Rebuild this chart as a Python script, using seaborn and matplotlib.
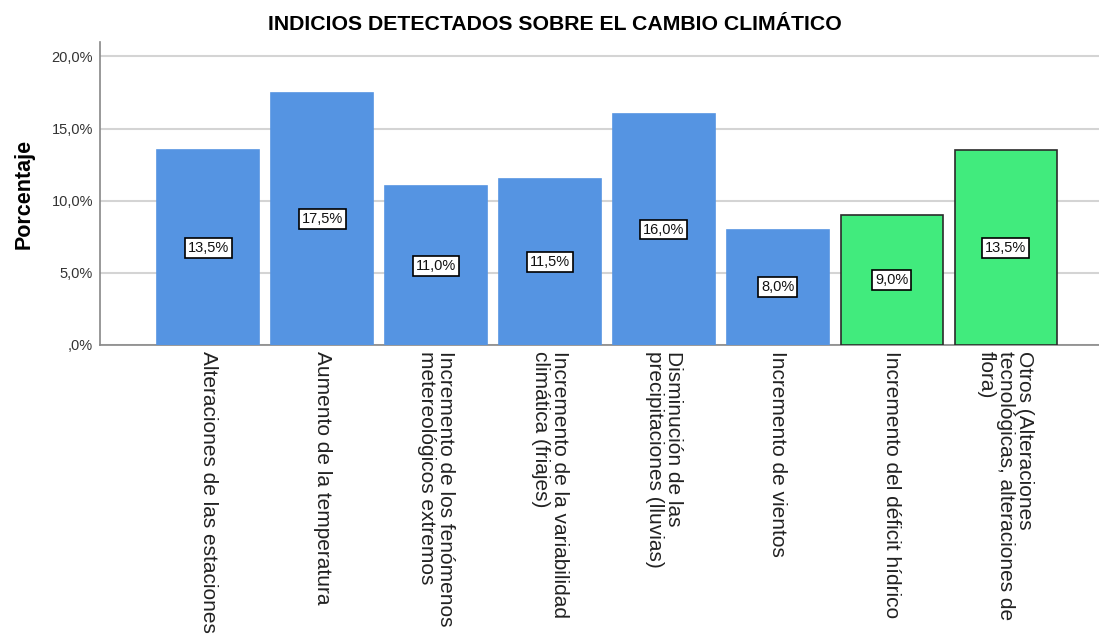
import matplotlib
matplotlib.use("Agg")
import matplotlib.pyplot as plt
import seaborn as sns
import pandas as pd
from matplotlib.ticker import FuncFormatter

# data
categorias = [
    "Alteraciones de las estaciones",
    "Aumento de la temperatura",
    "Incremento de los fenómenos\nmetereológicos extremos",
    "Incremento de la variabilidad\nclimática (friajes)",
    "Disminución de las\nprecipitaciones (lluvias)",
    "Incremento de vientos",
    "Incremento del déficit hídrico",
    "Otros (Alteraciones\ntecnológicas, alteraciones de\nflora)",
]
porcentajes = [13.5, 17.5, 11.0, 11.5, 16.0, 8.0, 9.0, 13.5]
colores = ["#5594E2"] * 6 + ["#41EB7D"] * 2
bordes = ["#5594E2"] * 6 + ["#2b2b2b"] * 2
yticks = [0, 5, 10, 15, 20]

df = pd.DataFrame({"cat": categorias, "pct": porcentajes})

sns.set_theme(style="white")
plt.rcParams["font.family"] = ["Liberation Sans", "DejaVu Sans"]
plt.rcParams["text.color"] = "black"

fig = plt.figure(figsize=(10.99, 6.35), dpi=100)
ax = fig.add_axes([100 / 1099, 1 - 345 / 635, 999 / 1099, 303 / 635])

sns.barplot(
    data=df, x="cat", y="pct", hue="cat", palette=colores,
    legend=False, width=0.895, ax=ax, saturation=1, zorder=3,
)

for bar, ec, val in zip(ax.patches, bordes, porcentajes):
    bar.set_edgecolor(ec)
    bar.set_linewidth(1.2)
    x = bar.get_x() + bar.get_width() / 2
    ax.text(
        x, val / 2, f"{val:.1f}%".replace(".", ","),
        ha="center", va="center", fontsize=10.5, color="#111111", zorder=5,
        bbox=dict(boxstyle="square,pad=0.2", fc="white", ec="black", lw=1.2),
    )

ax.set_ylim(0, 21)
ax.set_xlim(-0.95, 7.82)
ax.set_yticks(yticks)
ax.yaxis.set_major_formatter(
    FuncFormatter(lambda v, p: ",0%" if v == 0 else f"{v:.1f}%".replace(".", ","))
)
ax.grid(axis="y", color="#d4d4d4", lw=1.5, zorder=0)
ax.tick_params(axis="y", length=0, pad=5, labelsize=10.5, labelcolor="#333333")
ax.tick_params(axis="x", length=0, pad=4)

ax.set_xticks(range(len(categorias)))
ax.set_xticklabels(categorias, rotation=-90, ha="center", va="top",
                   multialignment="left", fontsize=15, color="#222222",
                   linespacing=1.0)

for s in ["top", "right"]:
    ax.spines[s].set_visible(False)
for s in ["left", "bottom"]:
    ax.spines[s].set_color("#888888")
    ax.spines[s].set_linewidth(1.2)

ax.set_xlabel("")
ax.set_ylabel("Porcentaje", fontsize=15.5, fontweight="bold", labelpad=12,
              color="black")

fig.text(555 / 1099, 1 - 24 / 635, "INDICIOS DETECTADOS SOBRE EL CAMBIO CLIMÁTICO",
         ha="center", va="center", fontsize=15.3, fontweight="bold", color="black")

fig.savefig("out.png", dpi=100)
